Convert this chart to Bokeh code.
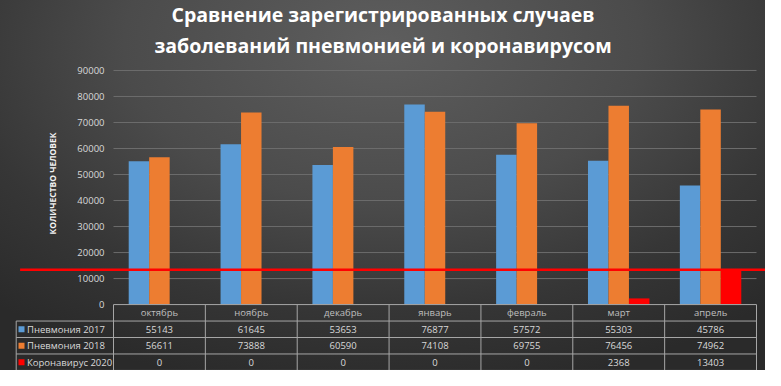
import math
from bokeh.plotting import figure
from bokeh.models import ColumnDataSource, Title, Range1d
from bokeh.transform import dodge
from bokeh.core.properties import value
from bokeh.embed import file_html
from bokeh.resources import INLINE

# ---------------- data ----------------
months = ["октябрь", "ноябрь", "декабрь", "январь", "февраль", "март", "апрель"]
series_names = ["Пневмония 2017", "Пневмония 2018", "Коронавирус 2020"]
pneumonia_2017 = [55143, 61645, 53653, 76877, 57572, 55303, 45786]
pneumonia_2018 = [56611, 73888, 60590, 74108, 69755, 76456, 74962]
covid_2020 = [0, 0, 0, 0, 0, 2368, 13403]
y_ticks = [0, 10000, 20000, 30000, 40000, 50000, 60000, 70000, 80000, 90000]
title_lines = ["Сравнение зарегистрированных случаев",
               "заболеваний пневмонией и коронавирусом"]
y_label = "КОЛИЧЕСТВО ЧЕЛОВЕК"

# ---------------- style / layout ----------------
colors = ["#5b9bd5", "#ed7d31", "#ff0000"]
FONT = "Open Sans"
TXT = "#d9d9d9"
LINE = "#a6a6a6"
W, H = 765, 370
n = len(months)
bar_w = 0.223
row_h = 6330                      # table row height (y units)

# the plot area (categories) occupies canvas px 113..756; the frame spans the whole width
FRAME_L, FRAME_R = 113, 756
upx = n / (FRAME_R - FRAME_L)
x_start = -0.5 - FRAME_L * upx
x_end = -0.5 + (W - FRAME_L) * upx


def px2x(px):
    return x_start + px * upx


legend_left = px2x(15.7)
swatch_x = px2x(21.0)
legend_text_x = px2x(26.5)
red_left = px2x(19.6)
ylabel_x = px2x(52)

p = figure(width=W, height=H, output_backend="svg", toolbar_location=None,
           x_range=Range1d(x_start, x_end), y_range=Range1d(-25345, 93449),
           x_axis_type=None, y_axis_type=None, min_border_left=0, min_border_right=0,
           min_border_top=60, min_border_bottom=0)
p.background_fill_color = None
p.border_fill_color = None
p.outline_line_color = None
p.styles = {"background": "radial-gradient(ellipse 75% 95% at 50% 12%, #5e5e5e 0%, #4b4b4b 45%, #363636 75%, #2a2a2a 100%)"}

# titles (inner line first)
p.add_layout(Title(text=title_lines[1], align="center", text_font=FONT,
                   text_font_size="19.5px", text_font_style="bold",
                   text_color="#ffffff", standoff=5.5), "above")
p.add_layout(Title(text=title_lines[0], align="center", text_font=FONT,
                   text_font_size="19.5px", text_font_style="bold",
                   text_color="#ffffff", standoff=-3), "above")

# value axis: grid lines, tick labels, axis title
grid_y = y_ticks[1:]
p.segment(x0=[-0.5] * len(grid_y), x1=[n - 0.5] * len(grid_y), y0=grid_y, y1=grid_y,
          line_color="#6c6c6c", line_width=1)
p.text(x=[-0.5] * len(y_ticks), y=y_ticks, text=[str(t) for t in y_ticks],
       x_offset=-9, text_font=value(FONT), text_font_size="9.5px", text_color=TXT,
       text_align="right", text_baseline="middle")
p.text(x=[ylabel_x], y=[(y_ticks[0] + y_ticks[-1]) / 2], text=[y_label], y_offset=-4,
       angle=math.pi / 2, text_font=value(FONT), text_font_size="8.5px",
       text_font_style="bold", text_color="#f2f2f2", text_align="center",
       text_baseline="middle")

# bars
idx = list(range(n))
src = ColumnDataSource(dict(x=idx, p17=pneumonia_2017, p18=pneumonia_2018, c20=covid_2020))
for k, (col, c) in enumerate(zip(["p17", "p18", "c20"], colors)):
    p.vbar(x=dodge("x", (k - 1) * bar_w, range=p.x_range), top=col, width=bar_w,
           bottom=0, source=src, fill_color=c, line_color=None)

# threshold line at the latest coronavirus value
thr = max(covid_2020)
p.segment(x0=[red_left], x1=[x_end], y0=[thr], y1=[thr], line_color="#ff0000",
          line_width=2.5)

# ---------------- data table ----------------
n_rows = 1 + len(series_names)
hy = [-k * row_h for k in range(n_rows + 1)]
hx0 = [-0.5] + [legend_left] * n_rows
p.segment(x0=hx0, x1=[n - 0.5] * len(hy), y0=hy, y1=hy, line_color=LINE, line_width=1)
vx = [i - 0.5 for i in range(n + 1)]
p.segment(x0=vx, x1=vx, y0=[0] * len(vx), y1=[hy[-1]] * len(vx),
          line_color=LINE, line_width=1)
p.segment(x0=[legend_left], x1=[legend_left], y0=[hy[1]], y1=[hy[-1]],
          line_color=LINE, line_width=1)

p.text(x=idx, y=[-0.5 * row_h] * n, text=months, text_font=value(FONT),
       text_font_size="9.5px", text_color="#bfbfbf", text_align="center",
       text_baseline="middle")
for r, vals in enumerate([pneumonia_2017, pneumonia_2018, covid_2020]):
    yc = -(r + 1.5) * row_h
    p.text(x=idx, y=[yc] * n, text=[str(v) for v in vals], text_font=value(FONT),
           text_font_size="9.5px", text_color=TXT, text_align="center",
           text_baseline="middle")
    p.scatter(x=[swatch_x], y=[yc], marker="square", size=6, fill_color=colors[r],
              line_color=None)
    p.text(x=[legend_text_x], y=[yc], text=[series_names[r]], text_font=value(FONT),
           text_font_size="9.5px", text_color=TXT, text_align="left",
           text_baseline="middle")

open("out.html", "w").write(file_html(p, INLINE))
